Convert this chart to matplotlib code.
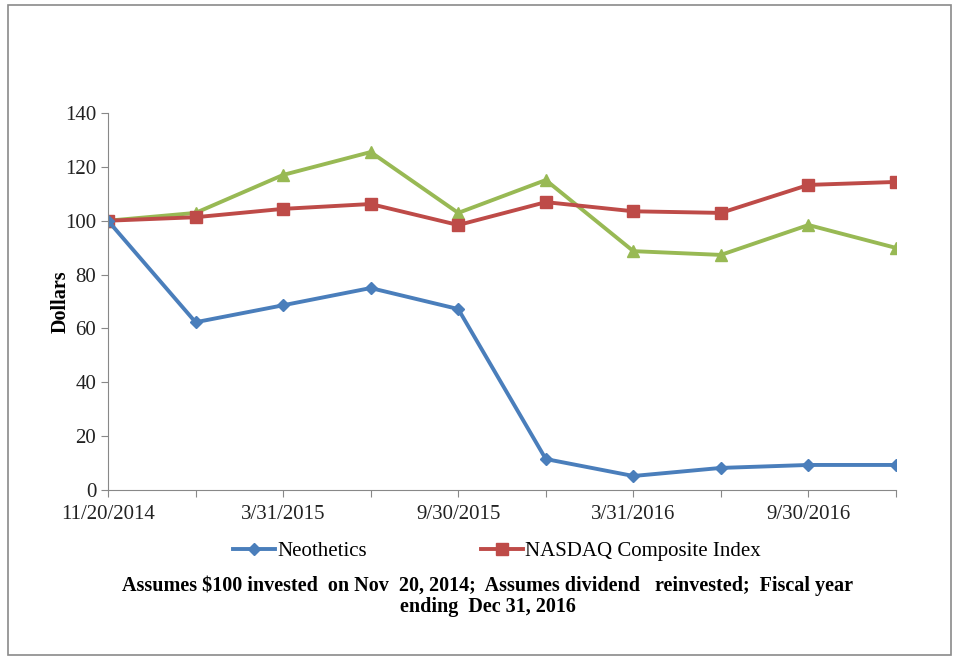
import numpy as np
from matplotlib import pyplot as plt
from matplotlib.patches import Rectangle

# tick labels (every other period is labelled)
periods = ['11/20/2014', '', '3/31/2015', '', '9/30/2015', '',
           '3/31/2016', '', '9/30/2016', '']

neothetics = [100, 62.3, 68.6, 75.0, 67.2, 11.5, 5.2, 8.2, 9.3, 9.3]
nasdaq = [100, 101.3, 104.4, 106.2, 98.4, 106.9, 103.5, 102.9, 113.3, 114.4]
third = [100, 102.9, 117.0, 125.5, 102.9, 115.1, 88.7, 87.3, 98.4, 89.9]

plt.rcParams['font.family'] = ['Liberation Serif', 'DejaVu Serif']

fig = plt.figure(figsize=(9.62, 6.62), dpi=100)
fig.patches.append(Rectangle((8/962, 7/662), 943/962, 650/662, transform=fig.transFigure,
                             fill=False, edgecolor='#8a8a8a', lw=1.2))

ax = fig.add_axes([108/962, 172/662, 788/962, 377/662])
x = np.arange(len(periods))

ax.plot(x, third, color='#98B954', lw=2.8, marker='^', ms=9)
ax.plot(x, nasdaq, color='#BE4B48', lw=2.8, marker='s', ms=8, label='NASDAQ Composite Index')
ax.plot(x, neothetics, color='#4A7EBB', lw=2.8, marker='D', ms=6.5, label='Neothetics')

ax.set_xlim(0, 9)
ax.set_ylim(0, 140)
ax.set_yticks(range(0, 141, 20))
ax.set_xticks(x)
ax.set_xticklabels(periods)
ax.tick_params(labelsize=15, colors='#222222', length=5, color='#888888')
ax.tick_params(axis='x', pad=6)
ax.set_ylabel('Dollars', fontsize=14.5, fontweight='bold', labelpad=-4)
for s in ['top', 'right']:
    ax.spines[s].set_visible(False)
for s in ['left', 'bottom']:
    ax.spines[s].set_color('#888888')

h, l = ax.get_legend_handles_labels()
fig.legend(h[::-1], l[::-1], loc='center', bbox_to_anchor=(497/962, 1 - 551/662), ncol=2,
           frameon=False, fontsize=15, handlelength=2.0, columnspacing=5.5, handletextpad=0.1)

fig.text(488/962, 1 - 586/662, 'Assumes $100 invested  on Nov  20, 2014;  Assumes dividend   reinvested;  Fiscal year',
         ha='center', va='center', fontsize=14.5, fontweight='bold')
fig.text(488/962, 1 - 607/662, 'ending  Dec 31, 2016', ha='center', va='center', fontsize=14.5, fontweight='bold')

plt.savefig('out.png', dpi=100)
